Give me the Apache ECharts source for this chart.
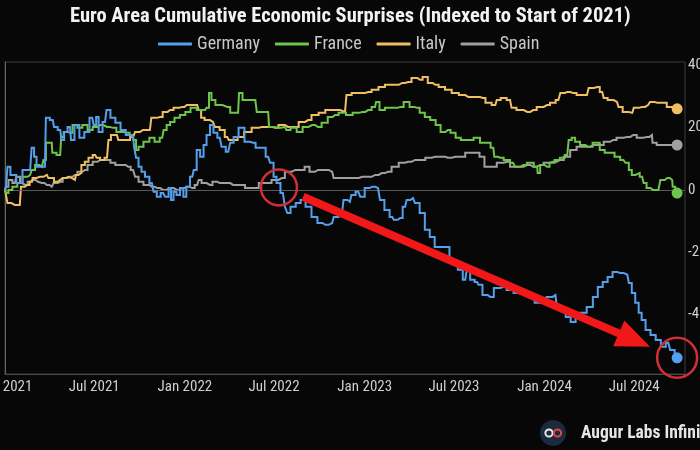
<!DOCTYPE html>
<html>
<head>
<meta charset="utf-8">
<script src="https://cdn.jsdelivr.net/npm/echarts@6/dist/echarts.min.js"></script>
<style>
html,body{margin:0;padding:0;background:#070707;}
#chart{width:700px;height:450px;}
</style>
</head>
<body>
<div id="chart"></div>
<script>
// ---- data (days since 1 Jan 2021, cumulative surprise index) ----
const seriesNames = ['Germany', 'France', 'Italy', 'Spain'];
const tickLabels = ['Jan 2021','Jul 2021','Jan 2022','Jul 2022','Jan 2023','Jul 2023','Jan 2024','Jul 2024'];
const tickDates = ['2021-01-01','2021-07-01','2022-01-01','2022-07-01','2023-01-01','2023-07-01','2024-01-01','2024-07-01'];
const yTickValues = [-40, -20, 0, 20, 40];

const germanyDays = [0,4,6,16,30,41,51,57,61,67,81,85,97,102,112,118,122,132,136,146,156,166,177,183,187,193,203,209,219,229,240,250,260,264,268,274,280,288,298,305,311,321,329,335,339,345,351,359,365,371,380,386,392,400,406,412,420,426,436,443,453,461,467,481,491,503,514,524,534,542,548,554,564,572,574,585,595,605,615,629,639,650,664,670,684,690,700,706,717,725,735,745,757,765,775,786,792,802,812,818,828,836,847,857,867,877,897,907,914,924,934,940,948,958,964,974,985,999,1011,1025,1039,1050,1060,1070,1080,1092,1106,1117,1123,1133,1143,1153,1163,1173,1188,1198,1208,1218,1228,1238,1248,1263,1269,1275,1283,1289,1295,1305,1315,1326,1336,1346,1354,1364];
const germanyValues = [0,1.0,7.4,4.8,2.2,6.4,6.4,13.5,10.6,7.4,7.4,23.1,22.4,20.2,19.2,16.0,18.6,20.2,16.0,20.8,16.7,18.6,23.1,20.8,23.4,18.6,21.8,25.6,23.1,21.5,19.2,17.6,17.0,13.8,10.3,7.4,5.8,4.2,2.2,-0.6,-2.2,-1.0,-2.2,0.6,-3.2,-0.6,-1.6,0.6,-2.2,1.0,4.2,6.4,12.8,10.6,14.4,17.6,20.8,18.3,16.7,13.8,12.2,15.1,17.0,19.9,15.4,15.1,13.5,13.5,10.6,8.7,4.2,2.2,-1.0,-5.4,-7.4,-5.4,-4.2,-3.2,-5.4,-8.7,-10.6,-11.2,-10.6,-8.7,-7.4,-3.2,-3.8,-1.6,-0.6,-2.2,0.6,1.0,0.6,-3.2,-6.4,-8.7,-9.6,-9.0,-5.4,-3.2,-2.6,-4.2,-7.4,-12.8,-15.1,-18.3,-18.3,-21.8,-24.0,-25.6,-28.8,-25.6,-28.8,-29.5,-30.4,-33.7,-34.3,-31.4,-31.1,-32.1,-33.0,-32.7,-33.7,-34.6,-36.2,-35.9,-34.3,-33.7,-37.5,-38.5,-40.7,-42.3,-41.0,-39.4,-37.5,-34.3,-31.1,-29.5,-27.9,-26.3,-26.6,-27.2,-29.8,-33.0,-36.2,-39.4,-41.7,-44.9,-46.5,-48.1,-50.3,-49.0,-51.3,-53.8];

const franceDays = [0,4,10,20,30,41,51,57,65,75,81,85,95,97,112,116,122,132,142,152,162,173,183,193,207,219,233,248,258,264,268,274,288,298,309,319,325,331,339,349,361,371,382,396,406,412,416,422,432,451,463,473,477,487,508,514,534,538,554,568,574,585,599,609,623,635,650,660,670,684,700,711,725,737,751,755,765,777,792,802,816,826,836,847,857,869,879,889,899,909,920,930,944,958,970,980,991,995,1005,1019,1031,1039,1052,1066,1080,1082,1090,1100,1110,1121,1131,1141,1147,1153,1161,1173,1183,1202,1212,1222,1232,1242,1255,1263,1269,1275,1283,1293,1299,1305,1315,1326,1334,1344,1354,1356,1364];
const franceValues = [0,-1.0,0,1.0,2.2,4.2,4.8,6.4,8.0,7.4,9.6,15.1,15.1,11.9,11.2,17.0,18.6,18.3,20.8,19.9,20.8,19.2,20.2,20.8,20.2,19.9,18.6,18.3,17.6,16.0,12.8,13.8,15.4,16.7,15.4,16.7,19.2,20.8,21.8,23.1,24.0,25.0,26.3,25.6,25.6,26.3,31.1,28.8,27.2,26.6,24.7,24.7,31.1,28.8,28.8,25.0,25.0,20.2,19.9,20.2,19.2,19.9,18.6,20.2,20.8,20.2,21.5,23.4,24.0,24.7,24.0,24.7,25.0,25.6,26.6,28.2,25.6,26.3,26.3,26.6,28.2,26.6,26.3,24.7,23.4,22.4,20.8,18.6,19.2,18.3,16.7,16.0,16.0,16.7,15.1,15.1,13.5,10.6,10.3,9.6,8.7,7.4,8.0,8.7,7.4,5.4,8.0,7.4,8.7,9.6,10.3,11.2,16.0,16.7,15.4,14.4,13.8,15.1,12.8,11.9,11.9,10.6,9.6,8.7,6.4,4.8,5.4,4.2,2.2,0.6,0,0,3.2,3.8,3.2,1.0,-1.0];

const italyDays = [0,4,6,20,30,35,45,55,57,71,85,91,97,102,112,118,128,136,142,146,152,158,166,173,183,189,197,207,213,217,227,233,248,260,268,280,294,300,315,325,335,349,359,369,390,396,400,410,422,430,441,451,457,467,477,493,508,522,534,548,562,574,589,603,615,629,644,656,670,690,696,711,725,737,751,765,777,792,806,818,832,842,853,863,873,887,899,914,928,940,958,970,980,995,1001,1011,1025,1031,1045,1060,1072,1086,1100,1112,1123,1131,1141,1153,1167,1181,1188,1202,1212,1218,1228,1242,1248,1259,1273,1279,1293,1305,1313,1324,1336,1350,1364];
const italyValues = [0,0,-4.2,-4.8,-4.8,1.0,1.6,2.6,3.8,4.2,4.8,3.8,3.8,2.6,3.2,3.8,4.2,3.8,3.2,4.8,5.4,8.0,9.0,10.3,11.2,10.3,9.6,10.3,16.0,17.6,17.6,16.0,16.0,17.0,18.6,19.2,19.2,23.1,23.4,25.0,25.6,26.3,26.6,27.2,27.2,25.6,23.1,22.4,21.8,20.2,19.2,17.0,16.0,16.0,17.0,18.6,19.9,20.2,20.2,19.9,20.8,20.2,20.2,21.8,22.4,24.0,24.7,25.6,25.6,25.0,30.4,31.1,31.1,31.4,32.1,33.0,33.7,33.7,34.3,34.6,35.9,35.3,36.2,34.3,33.7,33.0,32.1,31.1,30.4,29.8,29.8,29.5,27.9,27.2,28.8,29.5,28.8,26.3,25.6,25.0,25.6,26.6,27.2,27.9,28.8,31.1,31.4,31.1,30.4,30.4,32.7,33.0,31.4,29.5,28.8,28.2,26.6,25.0,24.7,26.3,26.6,27.2,28.2,27.9,27.9,26.6,26.0];

const spainDays = [0,4,10,20,26,35,41,51,57,67,75,85,95,102,112,122,132,142,152,162,173,183,193,209,219,229,240,250,260,268,274,288,298,309,321,335,349,359,369,380,390,396,402,416,426,436,451,463,481,493,508,522,534,548,562,574,589,603,613,623,635,650,664,670,684,711,725,737,751,765,777,792,806,818,832,847,859,873,887,899,914,928,940,958,968,978,991,1005,1019,1031,1045,1060,1072,1086,1100,1112,1127,1141,1153,1167,1181,1194,1208,1222,1234,1248,1263,1275,1289,1303,1313,1315,1330,1344,1364];
const spainValues = [0,1.0,3.2,2.2,4.2,2.2,1.6,2.6,3.2,2.6,2.2,1.6,1.0,2.2,2.6,3.8,4.2,4.8,5.8,6.4,8.0,9.0,9.6,9.6,8.7,8.0,8.0,7.4,6.4,4.2,2.6,1.6,1.0,0.6,0,0.6,0,0.6,1.0,0.6,1.6,3.2,2.2,1.6,2.6,2.2,2.2,1.6,1.6,0.6,0.6,2.2,2.2,3.2,3.8,5.8,6.4,6.4,7.4,5.8,6.4,6.4,5.8,3.8,3.8,3.8,4.2,4.2,4.8,5.4,5.8,7.4,8.7,9.0,9.6,9.6,10.3,10.6,10.6,10.3,10.6,10.6,11.9,11.9,10.6,7.4,7.4,8.7,9.0,7.4,7.4,8.0,7.4,8.0,8.7,9.0,9.6,10.6,12.8,13.8,13.8,14.4,14.4,15.4,16.0,16.7,17.0,17.6,16.7,17.0,17.6,15.1,14.4,14.4,14.4];

const seriesColors = ['#55a0ec', '#6fc44c', '#f0bf63', '#a0a0a0'];

// annotation anchors (data space): [day, value, radius]
const circleAnchors = [[556, 0.8, 18], [1364, -53.8, 20]];
const arrowFrom = [605, -2.2];
const arrowTo = [1309, -50.3];

// ---- build ----
const START = Date.UTC(2021, 0, 1);
const DAY = 86400000;
const AXIS_END_DAY = 1380;
const tickDays = tickDates.map(s => Math.round((Date.parse(s + 'T00:00:00Z') - START) / DAY));
const FONT = "'Liberation Sans Narrow', 'Roboto Condensed', 'DejaVu Sans Condensed', Roboto, sans-serif";

function pack(days, vals) { return days.map((d, i) => [d, vals[i]]); }
const allDays = [germanyDays, franceDays, italyDays, spainDays];
const allVals = [germanyValues, franceValues, italyValues, spainValues];

const chart = echarts.init(document.getElementById('chart'), null, {renderer: 'canvas'});

const series = seriesNames.map((name, k) => {
  const data = pack(allDays[k], allVals[k]);
  const last = data.length - 1;
  const s = {
    name: name,
    type: 'line',
    data: data,
    step: 'middle',
    showSymbol: true,
    showAllSymbol: true,
    symbol: 'circle',
    symbolSize: (v, p) => (p && p.dataIndex === last ? 11 : 0),
    lineStyle: {width: 2, color: seriesColors[k], join: 'miter'},
    itemStyle: {color: seriesColors[k]},
    emphasis: {disabled: true},
    z: 3 + (3 - k),
    animation: false
  };
  if (k === 3) {
    s.markLine = {
      silent: true, symbol: 'none', label: {show: false},
      lineStyle: {color: '#5a5a5a', width: 1, type: 'solid'},
      data: [{yAxis: 0}], animation: false
    };
  }
  return s;
});

chart.setOption({
  backgroundColor: '#070707',
  animation: false,
  title: {
    text: 'Euro Area Cumulative Economic Surprises (Indexed to Start of 2021)',
    left: 65, top: 1,
    textStyle: {color: '#f2f2f2', fontSize: 20.5, fontWeight: 'bold', fontFamily: FONT}
  },
  legend: {
    data: seriesNames,
    top: 30, left: 153,
    icon: 'roundRect', itemWidth: 34, itemHeight: 3, itemGap: 15,
    textStyle: {color: '#c8c8c8', fontSize: 18, fontFamily: FONT}
  },
  grid: {
    left: 5, right: 15, top: 62, bottom: 76,
    show: true, borderColor: '#3c3c3c', borderWidth: 1,
    containLabel: false, outerBoundsMode: 'none'
  },
  xAxis: {
    type: 'value',
    min: 0, max: AXIS_END_DAY,
    axisLine: {show: true, onZero: false, lineStyle: {color: '#4a4a4a'}},
    axisTick: {show: false},
    splitLine: {show: false},
    axisLabel: {
      customValues: tickDays,
      color: '#cfcfcf', fontSize: 15, fontFamily: FONT, margin: 6,
      hideOverlap: false,
      formatter: v => { const i = tickDays.indexOf(v); return i >= 0 ? tickLabels[i] : ''; }
    }
  },
  yAxis: {
    type: 'value', position: 'right',
    min: -59, max: 41,
    axisLine: {show: true, lineStyle: {color: '#666'}},
    axisTick: {show: false},
    splitLine: {show: false},
    axisLabel: {
      customValues: yTickValues,
      color: '#d0d0d0', fontSize: 15, fontFamily: FONT, margin: 3
    }
  },
  series: series
});

// annotations placed through the chart's coordinate system
const px = p => chart.convertToPixel({gridIndex: 0}, [p[0], p[1]]);
const graphics = [];
circleAnchors.forEach(c => {
  const p = px(c);
  graphics.push({type: 'circle', shape: {cx: p[0], cy: p[1], r: c[2]},
    style: {fill: 'none', stroke: '#cf2f35', lineWidth: 2.5}, z: 100, silent: true});
});
const a = px(arrowFrom), b = px(arrowTo);
const dx = b[0] - a[0], dy = b[1] - a[1], L = Math.hypot(dx, dy);
const ux = dx / L, uy = dy / L, nx = -uy, ny = ux;
const headLen = 34, headHalf = 14, shaftHalf = 4;
const bx = b[0] - ux * headLen, by = b[1] - uy * headLen;
graphics.push({type: 'polygon', z: 101, silent: true, shape: {points: [
  [a[0] + nx * shaftHalf, a[1] + ny * shaftHalf],
  [bx + nx * shaftHalf, by + ny * shaftHalf],
  [bx + nx * headHalf, by + ny * headHalf],
  [b[0], b[1]],
  [bx - nx * headHalf, by - ny * headHalf],
  [bx - nx * shaftHalf, by - ny * shaftHalf],
  [a[0] - nx * shaftHalf, a[1] - ny * shaftHalf]
]}, style: {fill: '#f01818'}});
// watermark
graphics.push({type: 'circle', shape: {cx: 553, cy: 433, r: 13}, style: {fill: '#1b2a3c'}, z: 100});
graphics.push({type: 'circle', shape: {cx: 549, cy: 433, r: 3.6}, style: {fill: 'none', stroke: '#e8e8e8', lineWidth: 2}, z: 101});
graphics.push({type: 'circle', shape: {cx: 557.5, cy: 433, r: 3.6}, style: {fill: 'none', stroke: '#e04848', lineWidth: 2}, z: 101});
graphics.push({type: 'text', x: 581, y: 434, z: 101, style: {text: 'Augur Labs Infinity', fill: '#e6e6e6',
  font: "bold 17.5px " + FONT, verticalAlign: 'middle', align: 'left'}});
chart.setOption({graphic: graphics});
</script>
</body>
</html>
